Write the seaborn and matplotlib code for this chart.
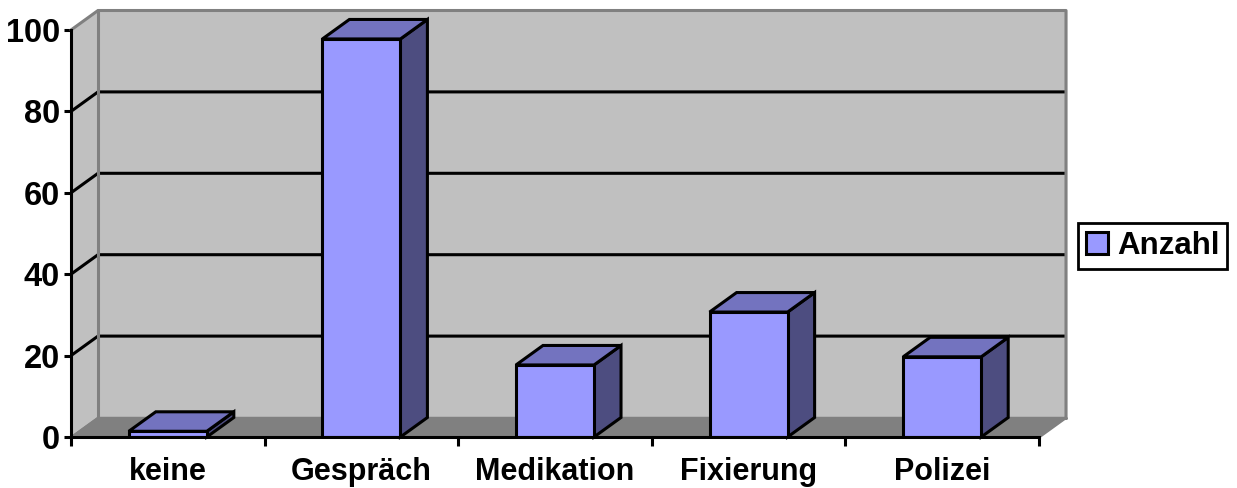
import matplotlib
matplotlib.use('Agg')
import matplotlib.pyplot as plt
import seaborn as sns
import pandas as pd

categories = ['keine', 'Gespräch', 'Medikation', 'Fixierung', 'Polizei']
anzahl = [1.4, 97.8, 17.7, 30.7, 19.7]
y_ticks = [0, 20, 40, 60, 80, 100]

sns.set_style('white')
plt.rcParams['font.family'] = ['Liberation Sans', 'DejaVu Sans']
plt.rcParams['font.weight'] = 'bold'

W, H = 1237, 488
fig = plt.figure(figsize=(W / 100, H / 100), dpi=100)
ax = fig.add_axes([71 / W, (H - 437) / H, 968 / W, 407 / H])

df = pd.DataFrame({'cat': categories, 'n': anzahl})
bar_w = 0.403
sns.barplot(data=df, x='cat', y='n', color='#9999ff', saturation=1, width=bar_w,
            edgecolor='black', linewidth=2.2, ax=ax, zorder=5)
ax.set_xlim(-0.5, 4.5)
ax.set_ylim(0, 100)

# depth of the fake 3d box, in data units
dx = 27 / (968 / 5)
dy = 19.5 / 4.07
x0, x1 = -0.5, 4.5

# walls and floor
ax.fill([x0 + dx, x1 + dx, x1 + dx, x0 + dx], [dy, dy, 100 + dy, 100 + dy],
        color='#c0c0c0', clip_on=False, zorder=0)
ax.fill([x0, x0 + dx, x0 + dx, x0], [0, dy, 100 + dy, 100],
        color='#c0c0c0', clip_on=False, zorder=0)
ax.fill([x0, x1, x1 + dx, x0 + dx], [0, 0, dy, dy],
        color='#808080', clip_on=False, zorder=1)

for t in y_ticks[1:-1]:
    ax.plot([x0, x0 + dx, x1 + dx], [t, t + dy, t + dy], color='black', lw=2.2,
            solid_capstyle='butt', clip_on=False, zorder=1.5)

# wall outline is grey
ax.plot([x0, x0 + dx, x1 + dx, x1 + dx, x1], [100, 100 + dy, 100 + dy, dy, 0],
        color='#808080', lw=2.2, clip_on=False, zorder=2)
ax.plot([x0 + dx, x0 + dx, x1 + dx], [100 + dy, dy, dy],
        color='#808080', lw=2.2, clip_on=False, zorder=2)
ax.plot([x0, x0 + dx], [0, dy], color='#808080', lw=1.2, clip_on=False, zorder=2)

# side and top faces of the bars
for i, v in enumerate(anzahl):
    l, r = i - bar_w / 2, i + bar_w / 2
    ax.fill([r, r + dx, r + dx, r], [0, dy, v + dy, v], facecolor='#4d4d80',
            edgecolor='black', lw=2.2, clip_on=False, zorder=4)
    ax.fill([l, r, r + dx, l + dx], [v, v, v + dy, v + dy], facecolor='#7373bf',
            edgecolor='black', lw=2.2, clip_on=False, zorder=4)

sns.despine(ax=ax, top=True, right=True)
for s in ['left', 'bottom']:
    ax.spines[s].set_color('black')
    ax.spines[s].set_linewidth(2.2)
    ax.spines[s].set_zorder(6)

ax.set_xlabel('')
ax.set_ylabel('')
ax.set_yticks(y_ticks)
ax.set_xticks(range(len(categories)))
ax.set_xticklabels(categories)
ax.set_xticks([x0 + i for i in range(6)], minor=True)
ax.tick_params(axis='x', which='major', length=0, pad=14.5, labelsize=22, labelcolor='black')
ax.tick_params(axis='x', which='minor', length=6.5, width=2.2, color='black', bottom=True)
ax.tick_params(axis='y', length=5, width=2.2, color='black', left=True, pad=3,
               labelsize=23.5, labelcolor='black')
for lab in ax.get_xticklabels() + ax.get_yticklabels():
    lab.set_fontweight('bold')

# legend
handle = plt.Rectangle((0, 0), 1, 1, facecolor='#9999ff', edgecolor='black', lw=2.2)
leg = fig.legend([handle], ['Anzahl'], loc='center left',
                 bbox_to_anchor=(1078 / W, 1 - 246 / H), prop={'size': 22.5, 'weight': 'bold'},
                 labelcolor='black', frameon=True, fancybox=False, framealpha=1,
                 edgecolor='black', handlelength=0.7, handleheight=0.7, handletextpad=0.3,
                 borderpad=0.25, borderaxespad=0)
leg.get_frame().set_linewidth(2)

fig.savefig('out.png', dpi=100, facecolor='white')
